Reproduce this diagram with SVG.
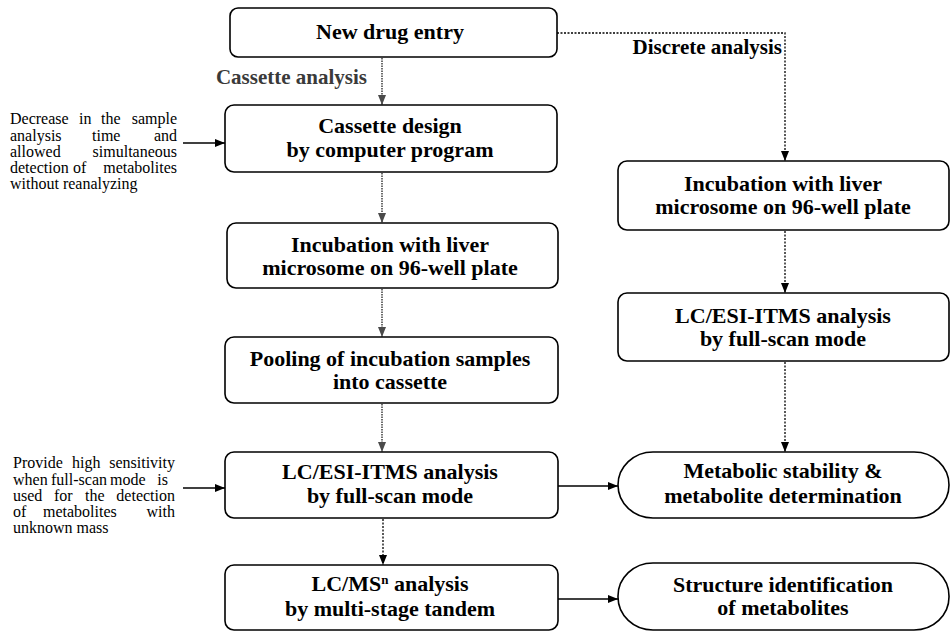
<svg xmlns="http://www.w3.org/2000/svg" width="951" height="633" viewBox="0 0 951 633">
<style>
.box{fill:#fff;stroke:#000;stroke-width:1.6}
.t{font-family:"Liberation Serif","Times New Roman",serif;font-weight:bold;font-size:22px;text-anchor:middle;fill:#000}
.lbl{font-family:"Liberation Serif","Times New Roman",serif;font-weight:bold;font-size:21px;text-anchor:end}
.a{font-family:"Liberation Serif","Times New Roman",serif;font-size:16px;fill:#000}
.solid{fill:none;stroke:#000;stroke-width:1.4}
.grey{fill:none;stroke:#4a4a4a;stroke-width:1.6;stroke-dasharray:1.5 1}
.dot{fill:none;stroke:#000;stroke-width:1.3;stroke-dasharray:2 1.5}
</style>
<defs>
<marker id="ah" viewBox="0 0 10 8" refX="10" refY="4" markerWidth="10" markerHeight="8" markerUnits="userSpaceOnUse" orient="auto"><path d="M0,0 L10,4 L0,8 z" fill="#000"/></marker>
<marker id="ahg" viewBox="0 0 10 8" refX="10" refY="4" markerWidth="10" markerHeight="8" markerUnits="userSpaceOnUse" orient="auto"><path d="M0,0 L10,4 L0,8 z" fill="#4a4a4a"/></marker>
</defs>
<rect width="951" height="633" fill="#fff"/>

<g id="connectors">
<line class="grey" x1="382" y1="58" x2="382" y2="105" marker-end="url(#ahg)"/>
<line class="grey" x1="382" y1="173" x2="382" y2="223" marker-end="url(#ahg)"/>
<line class="grey" x1="382" y1="289" x2="382" y2="337" marker-end="url(#ahg)"/>
<line class="grey" x1="382" y1="404" x2="382" y2="452" marker-end="url(#ahg)"/>
<line class="dot" x1="383" y1="519" x2="383" y2="565" marker-end="url(#ah)"/>
<polyline class="dot" points="557,33 785,33 785,161" marker-end="url(#ah)"/>
<line class="dot" x1="785" y1="231" x2="785" y2="293" marker-end="url(#ah)"/>
<line class="dot" x1="785" y1="362" x2="785" y2="452" marker-end="url(#ah)"/>
<line class="solid" x1="558" y1="486" x2="618" y2="486" marker-end="url(#ah)"/>
<line class="solid" x1="558" y1="599" x2="618" y2="599" marker-end="url(#ah)"/>
<line class="solid" x1="183" y1="143" x2="225" y2="143" marker-end="url(#ah)"/>
<line class="solid" x1="183" y1="488" x2="225" y2="488" marker-end="url(#ah)"/>
<text class="lbl" x="367" y="84" fill="#3a3a3a">Cassette analysis</text>
<text class="lbl" x="782" y="54" fill="#000">Discrete analysis</text>
</g>

<g id="new-drug-entry">
<rect class="box" x="230" y="8" width="327" height="49" rx="8"/>
<text class="t" x="390" y="39">New drug entry</text>
</g>

<g id="cassette-design">
<rect class="box" x="225" y="105" width="332" height="67" rx="9"/>
<text class="t" x="390" y="133">Cassette design</text>
<text class="t" x="390" y="157">by computer program</text>
</g>

<g id="incubation-left">
<rect class="box" x="227" y="223" width="331" height="65" rx="9"/>
<text class="t" x="390" y="252">Incubation with liver</text>
<text class="t" x="390" y="275">microsome on 96-well plate</text>
</g>

<g id="pooling">
<rect class="box" x="225" y="337" width="333" height="66" rx="9"/>
<text class="t" x="390" y="366">Pooling of incubation samples</text>
<text class="t" x="390" y="389">into cassette</text>
</g>

<g id="lc-esi-left">
<rect class="box" x="225" y="452" width="333" height="66" rx="9"/>
<text class="t" x="390" y="479">LC/ESI-ITMS analysis</text>
<text class="t" x="390" y="503">by full-scan mode</text>
</g>

<g id="lc-msn">
<rect class="box" x="225" y="565" width="333" height="65" rx="9"/>
<text class="t" x="390" y="591">LC/MS<tspan font-size="13" dy="-7">n</tspan><tspan dy="7"> analysis</tspan></text>
<text class="t" x="390" y="616">by multi-stage tandem</text>
</g>

<g id="incubation-right">
<rect class="box" x="618" y="161" width="331" height="69" rx="9"/>
<text class="t" x="783" y="191">Incubation with liver</text>
<text class="t" x="783" y="214">microsome on 96-well plate</text>
</g>

<g id="lc-esi-right">
<rect class="box" x="618" y="293" width="331" height="68" rx="9"/>
<text class="t" x="783" y="323">LC/ESI-ITMS analysis</text>
<text class="t" x="783" y="346">by full-scan mode</text>
</g>

<g id="metabolic-stability">
<rect class="box" x="618" y="452" width="331" height="66" rx="35" ry="33"/>
<text class="t" x="783" y="478">Metabolic stability &amp;</text>
<text class="t" x="783" y="503">metabolite determination</text>
</g>

<g id="structure-identification">
<rect class="box" x="618" y="563" width="331" height="67" rx="35" ry="33"/>
<text class="t" x="783" y="592">Structure identification</text>
<text class="t" x="783" y="615">of metabolites</text>
</g>

<g id="note-cassette">
<text class="a" y="124"><tspan x="10">Decrease</tspan> <tspan x="79">in</tspan> <tspan x="101">the</tspan> <tspan x="177" text-anchor="end">sample</tspan></text>
<text class="a" y="140.5"><tspan x="10">analysis</tspan> <tspan x="92">time</tspan> <tspan x="177" text-anchor="end">and</tspan></text>
<text class="a" y="157"><tspan x="10">allowed</tspan> <tspan x="177" text-anchor="end">simultaneous</tspan></text>
<text class="a" y="173"><tspan x="10">detection</tspan> <tspan x="73">of</tspan> <tspan x="177" text-anchor="end">metabolites</tspan></text>
<text class="a" x="10" y="189">without reanalyzing</text>
</g>

<g id="note-sensitivity">
<text class="a" y="468"><tspan x="13">Provide</tspan> <tspan x="72">high</tspan> <tspan x="175" text-anchor="end">sensitivity</tspan></text>
<text class="a" y="484.5"><tspan x="13">when</tspan> <tspan x="51">full-scan</tspan> <tspan x="110">mode</tspan> <tspan x="168" text-anchor="end">is</tspan></text>
<text class="a" y="501"><tspan x="13">used</tspan> <tspan x="54">for</tspan> <tspan x="85">the</tspan> <tspan x="175" text-anchor="end">detection</tspan></text>
<text class="a" y="517"><tspan x="13">of</tspan> <tspan x="43">metabolites</tspan> <tspan x="175" text-anchor="end">with</tspan></text>
<text class="a" x="13" y="533">unknown mass</text>
</g>
</svg>
